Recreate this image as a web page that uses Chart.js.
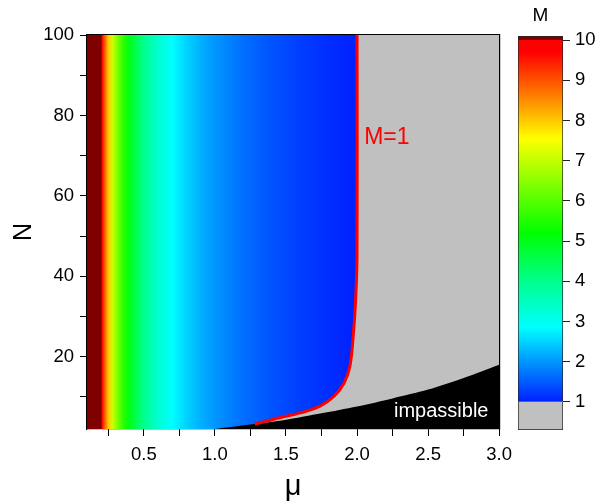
<!DOCTYPE html>
<html>
<head>
<meta charset="utf-8">
<script src="https://cdn.jsdelivr.net/npm/chart.js@4.4.0/dist/chart.umd.min.js"></script>
<style>
  html, body { margin: 0; padding: 0; background: #fff; }
  #wrap { position: relative; width: 600px; height: 504px; overflow: hidden; }
  #main { position: absolute; left: 0; top: 0; }
  #bar { position: absolute; left: 505px; top: 0; }
</style>
</head>
<body>
<div id="wrap">
  <canvas id="main" width="520" height="504"></canvas>
  <canvas id="bar" width="95" height="504"></canvas>
</div>
<script>
const FONT = '"Liberation Sans", Arial, sans-serif';

// M read along mu in the upper part of the map (it hardly changes with N there)
const muCols = [0.1, 0.2, 0.205, 0.22, 0.25, 0.28, 0.32, 0.36, 0.4, 0.45, 0.5, 0.6, 0.7, 0.8, 0.9, 1.0, 1.2, 1.4, 1.6, 1.8, 2.0];
const mCols  = [20, 10.1, 10.0, 9.1, 8.0, 7.1, 6.25, 5.55, 5.0, 4.45, 4.0, 3.33, 2.86, 2.5, 2.22, 2.0, 1.67, 1.43, 1.25, 1.11, 1.0];

// the M=1 contour
const contourMu = [1.28, 1.36, 1.455, 1.6, 1.74, 1.84, 1.91, 1.95, 1.975, 1.99, 2.0, 2.0];
const contourN  = [3.2, 3.9, 4.8, 6.0, 7.7, 10.2, 13.5, 17.6, 26, 34, 45, 100];

// lower edge: the impassible region
const edgeMu = [1.0, 1.25, 1.5, 1.75, 2.0, 2.25, 2.5, 2.75, 3.0];
const edgeN  = [2.0, 3.1, 4.3, 5.9, 7.6, 9.6, 11.8, 14.7, 18.0];

// colour scale
const cbarLevels = [1.0, 2.0, 2.86, 4.0, 5.2, 6.4, 7.55, 8.6, 9.7, 10.0, 10.01, 10.1];
const cbarColors = ['#0020ff', '#0096ff', '#00ffff', '#00ff8c', '#00ff00', '#80ff00', '#ffff00', '#ff8000', '#ff0000', '#ff0000', '#800000', '#800000'];
const cbarTicks = [1, 2, 3, 4, 5, 6, 7, 8, 9, 10];

const xLabelVals = [0.5, 1.0, 1.5, 2.0, 2.5, 3.0];
const yLabelVals = [20, 40, 60, 80, 100];

function hexToRgb(h) {
  return [parseInt(h.slice(1, 3), 16), parseInt(h.slice(3, 5), 16), parseInt(h.slice(5, 7), 16)];
}

function colorFor(m) {
  if (m <= cbarLevels[0]) return cbarColors[0];
  for (let i = 1; i < cbarLevels.length; i++) {
    if (m <= cbarLevels[i]) {
      const t = (m - cbarLevels[i - 1]) / (cbarLevels[i] - cbarLevels[i - 1]);
      const a = hexToRgb(cbarColors[i - 1]), b = hexToRgb(cbarColors[i]);
      return 'rgb(' + a.map((v, k) => Math.round(v + (b[k] - v) * t)).join(',') + ')';
    }
  }
  return cbarColors[cbarColors.length - 1];
}

function mapFill(context) {
  const chart = context.chart;
  const { chartArea, scales } = chart;
  if (!chartArea) return null;
  const x0 = scales.x.getPixelForValue(muCols[0]);
  const x1 = scales.x.getPixelForValue(muCols[muCols.length - 1]);
  const g = chart.ctx.createLinearGradient(x0, 0, x1, 0);
  muCols.forEach((mu, i) => {
    const t = (scales.x.getPixelForValue(mu) - x0) / (x1 - x0);
    g.addColorStop(Math.min(1, Math.max(0, t)), colorFor(mCols[i]));
  });
  return g;
}

function cbarFill(context) {
  const chart = context.chart;
  const { chartArea, scales } = chart;
  if (!chartArea) return null;
  const y0 = scales.y.getPixelForValue(cbarLevels[0]);
  const y1 = scales.y.getPixelForValue(cbarLevels[cbarLevels.length - 1]);
  const g = chart.ctx.createLinearGradient(0, y0, 0, y1);
  cbarLevels.forEach((m, i) => {
    g.addColorStop((scales.y.getPixelForValue(m) - y0) / (y1 - y0), cbarColors[i]);
  });
  return g;
}

// text placed at data coordinates
const notesPlugin = {
  id: 'notes',
  afterDatasetsDraw(chart, args, opts) {
    const { ctx, scales } = chart;
    ctx.save();
    (opts.items || []).forEach(n => {
      ctx.font = n.size + 'px ' + FONT;
      ctx.fillStyle = n.color;
      ctx.textAlign = 'left';
      ctx.textBaseline = 'alphabetic';
      ctx.fillText(n.text, scales.x.getPixelForValue(n.x), scales.y.getPixelForValue(n.y));
    });
    ctx.restore();
  }
};

const tickFont = { family: FONT, size: 18.5 };

const contourPts = contourMu.map((m, i) => ({ x: m, y: contourN[i] }));
const topRight = contourPts[contourPts.length - 1];

new Chart(document.getElementById('main'), {
  type: 'scatter',
  data: {
    datasets: [
      {
        label: 'M=1',
        data: contourPts,
        showLine: true,
        tension: 0.4,
        borderColor: '#ff0000',
        borderWidth: 3,
        pointRadius: 0,
        fill: false,
        order: 1
      },
      {
        label: 'impassible',
        data: edgeMu.map((m, i) => ({ x: m, y: edgeN[i] })),
        showLine: true,
        tension: 0.3,
        borderWidth: 0,
        borderColor: '#000',
        backgroundColor: '#000',
        pointRadius: 0,
        fill: 'start',
        order: 2
      },
      {
        // M < 1: right of the contour, closed along the top edge
        label: 'M<1',
        data: contourPts.concat([{ x: topRight.x, y: topRight.y }, { x: 3.0, y: 100 }]),
        showLine: true,
        tension: 0.4,
        borderWidth: 0,
        borderColor: '#c0c0c0',
        backgroundColor: '#c0c0c0',
        pointRadius: 0,
        fill: 'start',
        order: 3
      },
      {
        label: 'M',
        data: muCols.map(mu => ({ x: mu, y: 100 })),
        showLine: true,
        borderWidth: 0,
        borderColor: 'rgba(0,0,0,0)',
        backgroundColor: mapFill,
        pointRadius: 0,
        fill: 'start',
        order: 4
      }
    ]
  },
  options: {
    responsive: false,
    animation: false,
    devicePixelRatio: 1,
    layout: { padding: { left: 0, top: 35, right: 20, bottom: 0 } },
    plugins: {
      legend: { display: false },
      tooltip: { enabled: false },
      notes: {
        items: [
          { text: 'M=1', x: 2.05, y: 73, size: 23, color: '#ff0000' },
          { text: 'impassible', x: 2.26, y: 4.9, size: 20, color: '#ffffff' }
        ]
      }
    },
    scales: {
      x: {
        type: 'linear', position: 'bottom', min: 0.1, max: 3.0, z: 1,
        ticks: {
          stepSize: 0.25, includeBounds: false, autoSkip: false, maxRotation: 0,
          color: '#000', font: tickFont, padding: 8,
          callback: v => xLabelVals.includes(v) ? v.toFixed(1) : ''
        },
        grid: { drawOnChartArea: false, tickLength: 7, tickColor: '#000', tickWidth: 1 },
        border: { color: '#000', width: 1.2 },
        title: { display: true, text: 'μ', color: '#000', font: { family: FONT, size: 29 }, padding: { top: 0, bottom: 0 } },
        afterFit: s => { s.height = 75; }
      },
      y: {
        type: 'linear', position: 'left', min: 2, max: 100, z: 1,
        ticks: {
          stepSize: 10, includeBounds: false, autoSkip: false,
          color: '#000', font: tickFont, padding: 6,
          callback: v => yLabelVals.includes(v) ? String(v) : ''
        },
        grid: { drawOnChartArea: false, tickLength: 7, tickColor: '#000', tickWidth: 1 },
        border: { color: '#000', width: 1.2 },
        title: { display: true, text: 'N', color: '#000', font: { family: FONT, size: 25 }, padding: { top: 9 } },
        afterFit: s => { s.width = 87; }
      },
      x2: {
        type: 'linear', position: 'top', min: 0.1, max: 3.0, z: 1,
        ticks: { display: false },
        grid: { display: false, drawTicks: false },
        border: { color: '#000', width: 1.2 },
        afterFit: s => { s.height = 0; }
      },
      y2: {
        type: 'linear', position: 'right', min: 2, max: 100, z: 1,
        ticks: { display: false },
        grid: { display: false, drawTicks: false },
        border: { color: '#000', width: 1.2 },
        afterFit: s => { s.width = 0; }
      }
    }
  },
  plugins: [notesPlugin]
});

new Chart(document.getElementById('bar'), {
  type: 'bar',
  data: {
    labels: ['M'],
    datasets: [
      {
        data: [[1, 10.1]],
        backgroundColor: cbarFill,
        borderColor: '#222',
        borderWidth: 1,
        borderSkipped: 'bottom',
        grouped: false,
        barPercentage: 1,
        categoryPercentage: 1
      },
      {
        data: [[0.3, 1]],
        backgroundColor: '#c0c0c0',
        borderColor: '#222',
        borderWidth: 1,
        borderSkipped: 'top',
        grouped: false,
        barPercentage: 1,
        categoryPercentage: 1
      }
    ]
  },
  options: {
    responsive: false,
    animation: false,
    devicePixelRatio: 1,
    layout: { padding: { left: 13, top: 0, bottom: 74, right: 0 } },
    plugins: { legend: { display: false }, tooltip: { enabled: false } },
    scales: {
      x: {
        position: 'top',
        ticks: { display: false },
        grid: { display: false, drawTicks: false },
        border: { display: false },
        title: { display: true, text: 'M', color: '#000', font: { family: FONT, size: 19 }, padding: { top: 4, bottom: 0 } },
        afterFit: s => { s.height = 36; }
      },
      y: {
        position: 'right', min: 0.3, max: 10.1,
        ticks: {
          stepSize: 1, includeBounds: false, autoSkip: false,
          color: '#000', font: tickFont, padding: 5,
          callback: v => cbarTicks.includes(v) ? String(v) : ''
        },
        grid: { drawOnChartArea: false, tickLength: 7, tickColor: '#222', tickWidth: 1 },
        border: { display: false },
        afterFit: s => { s.width = 37; }
      }
    }
  }
});
</script>
</body>
</html>
